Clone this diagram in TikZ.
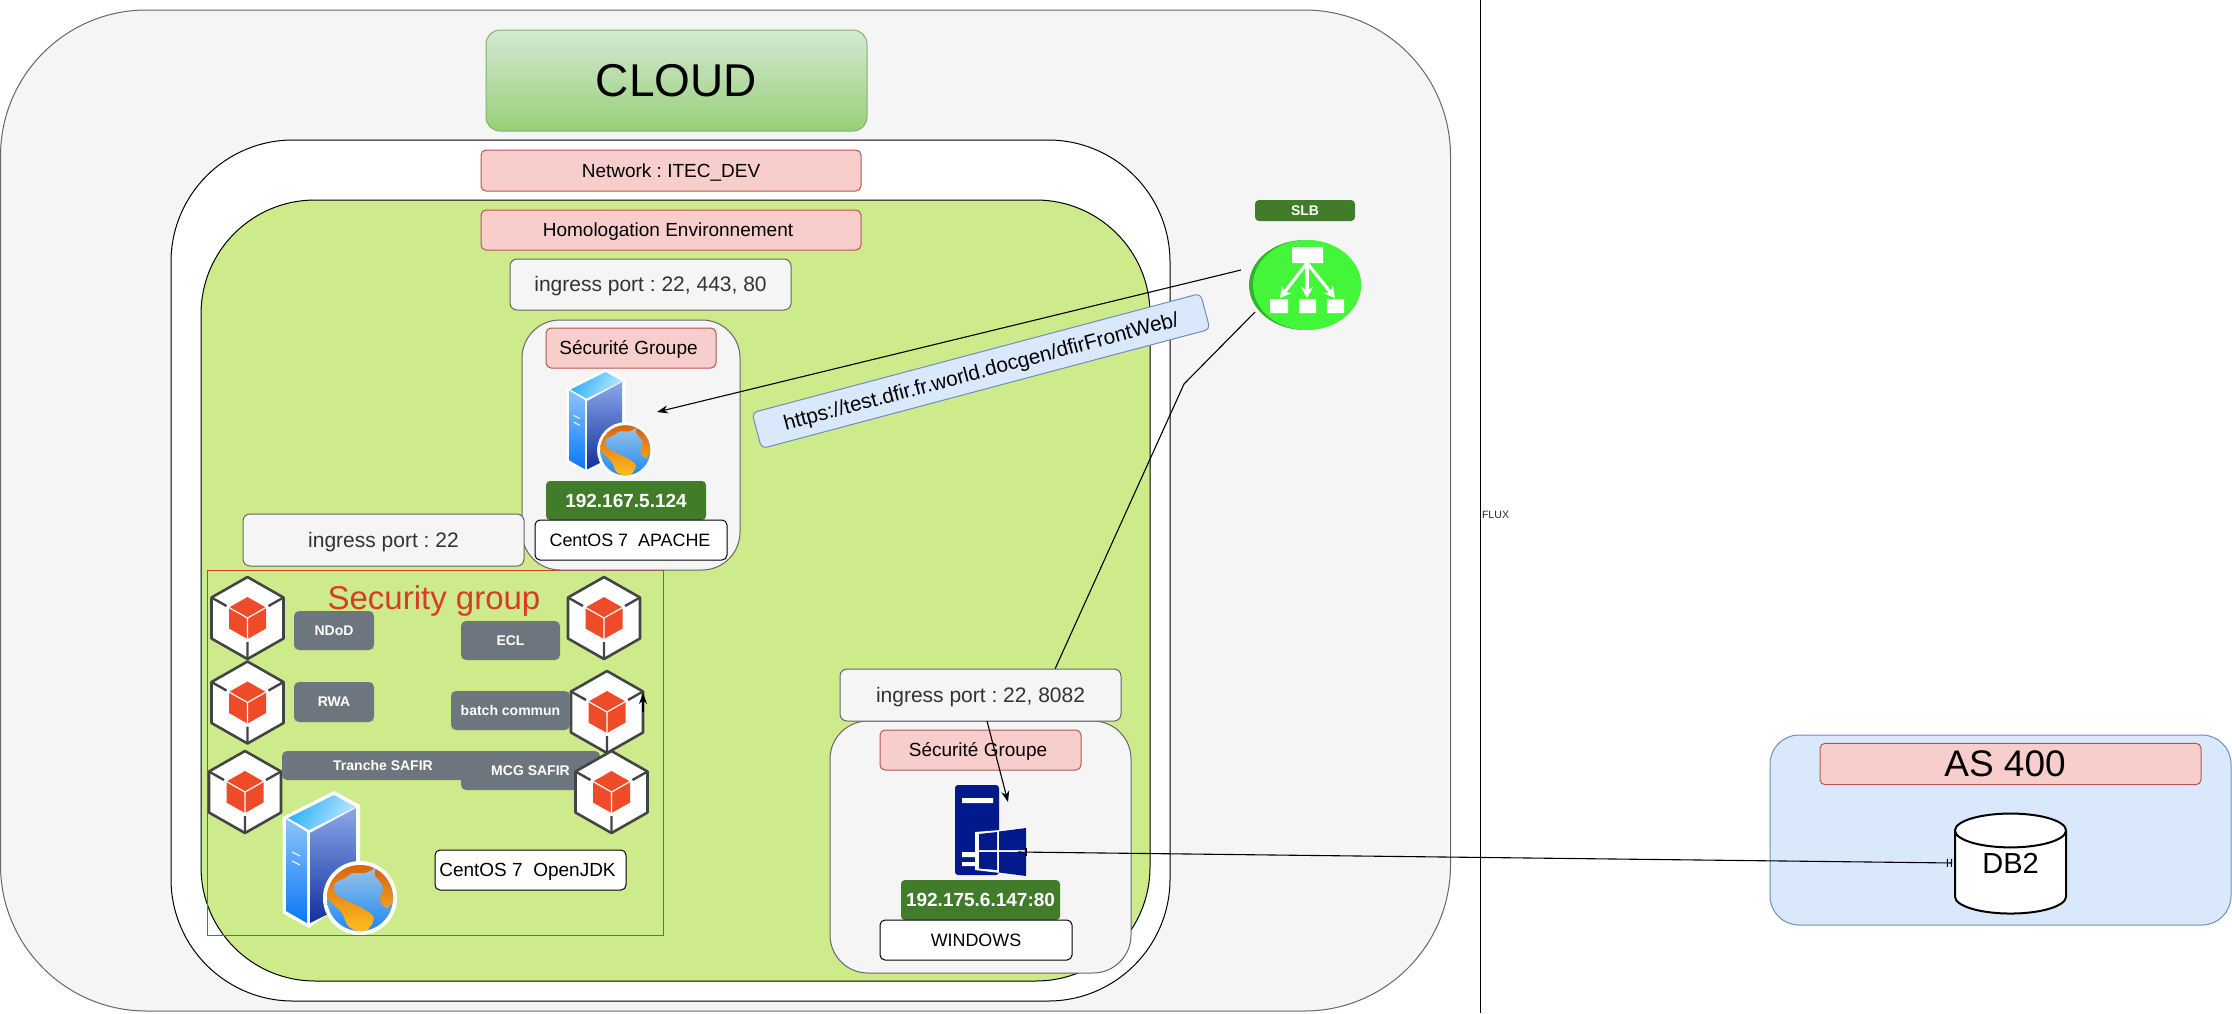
\documentclass[tikz,border=0pt]{standalone}
\usepackage{fontspec}
\setmainfont{Liberation Sans}
\usetikzlibrary{positioning,shapes.geometric,arrows.meta,calc}

\definecolor{cloudgrey}{HTML}{F5F5F5}
\definecolor{edgegrey}{HTML}{666666}
\definecolor{envgreen}{HTML}{CDEB8B}
\definecolor{pinkfill}{HTML}{F8CECC}
\definecolor{pinkedge}{HTML}{B85450}
\definecolor{ipgreen}{HTML}{417C2A}
\definecolor{tagslate}{HTML}{6D767E}
\definecolor{bluefill}{HTML}{DAE8FC}
\definecolor{blueedge}{HTML}{6C8EBF}
\definecolor{sgred}{HTML}{DA3A28}
\definecolor{cubered}{HTML}{F04B29}
\definecolor{cubeedge}{HTML}{444444}
\definecolor{winblue}{HTML}{001A8C}
\definecolor{slblight}{HTML}{44F63A}
\definecolor{slbdark}{HTML}{2FB32A}
\definecolor{cloudtop}{HTML}{D5E8D4}
\definecolor{cloudbot}{HTML}{97D077}
\definecolor{cloudedge}{HTML}{82B366}
\definecolor{srvtopa}{HTML}{2BB0FA}
\definecolor{srvtopb}{HTML}{BFE8FF}
\definecolor{srvlefta}{HTML}{8CC4FB}
\definecolor{srvleftb}{HTML}{0A78F5}
\definecolor{srvrighta}{HTML}{8AA8E8}
\definecolor{srvrightb}{HTML}{122FA0}
\definecolor{globea}{HTML}{9CC4E4}
\definecolor{globeb}{HTML}{1E88F5}
\definecolor{landa}{HTML}{D8620F}
\definecolor{landb}{HTML}{FFC020}
\definecolor{landc}{HTML}{F0A020}

\newcommand{\px}[1]{\fontsize{#1}{#1}\selectfont\frenchspacing\vrule width 0pt height .905em depth .212em\relax}

\tikzset{
base/.style = {shape = rectangle, inner sep = 0pt, outer sep = 0pt},
zone/.style = {base, line width = 1pt, draw = black},
pinklabel/.style = {base, fill = pinkfill, draw = pinkedge, line width = 1pt, rounded corners = 5pt, font = \px{19}},
ingress/.style = {base, fill = cloudgrey, draw = edgegrey, line width = 1pt, rounded corners = 7pt, text = black!80, font = \px{21}},
sgzone/.style = {base, fill = cloudgrey, draw = edgegrey, line width = 1pt, rounded corners = 38pt},
ipbox/.style = {base, fill = ipgreen, rounded corners = 4pt, text = white, font = \bfseries\px{19}},
osbox/.style = {base, fill = white, draw = black, line width = 1pt, rounded corners = 5pt},
tag/.style = {base, fill = tagslate, rounded corners = 5pt, text = white, font = \bfseries\px{14}},
edge/.style = {draw = black, line width = 1.1pt},
flow/.style = {edge, -{Stealth[length = 11pt, width = 8pt]}},
slbarrow/.style = {white, line width = 3.2pt, -{Stealth[length = 11pt, width = 12pt]}},
cubeicon/.pic = {
  \draw[fill = white, draw = cubeedge, line width = 2.6pt, line join = round]
    (0,-41) -- (36,-20.5) -- (36,20.5) -- (0,41) -- (-36,20.5) -- (-36,-20.5) -- cycle;
  \draw[draw = cubeedge, line width = 2.4pt]
    (36,-20.5) -- (21,-12) (-36,-20.5) -- (-21,-12) (0,41) -- (0,24);
  \fill[cubered] (0,-21) -- (18.5,-10.5) -- (18.5,10.5) -- (0,21) -- (-18.5,10.5) -- (-18.5,-10.5) -- cycle;
  \draw[white, line width = 1.2pt] (-18.5,-10.5) -- (0,0) -- (18.5,-10.5) (0,0) -- (0,21);
},
srvglobe/.pic = {
  \fill[white] (52,0) -- (78,14) -- (78,100) -- (27,137) -- (0.7,122) -- (0.7,26) -- cycle;
  \path[left color = srvtopa, right color = srvtopb, shading angle = 60] (52,4) -- (74,16) -- (27,39) -- (6,27) -- cycle;
  \path[top color = srvlefta, bottom color = srvleftb] (4,28) -- (25,41) -- (25,132) -- (4,120) -- cycle;
  \path[top color = srvrighta, bottom color = srvrightb] (28,42) -- (74,17) -- (74,109) -- (28,132) -- cycle;
  \draw[white, line width = 1pt] (10,61) -- (18,65) (10,70) -- (18,74);
  \fill[white] (78,107) circle (37);
  \begin{scope}
  \clip (78,107) circle (33);
  \path[top color = globea, bottom color = globeb] (45,74) rectangle (111,140);
  \path[top color = landa, bottom color = landb] plot[smooth cycle] coordinates {
    (46,107) (45.7,92) (57,76) (77,72) (93,76) (83,82) (70,82) (63,87) (53,92) (53,102)
    (63,109) (80,117) (92,127) (83,141) (67,136) (60,122) (50,112)};
  \path[top color = landa, bottom color = landc] plot[smooth cycle] coordinates {
    (95,77) (107,86) (112,106) (105,117) (98,109) (101,96) (93,84)};
  \end{scope}
}
}

\begin{document}
\begin{tikzpicture}[x = 1pt, y = -1pt]
\useasboundingbox (0,0) rectangle (2232,1013);

% zones
\node[zone, draw = edgegrey, fill = cloudgrey, rounded corners = 146pt, minimum width = 1450pt, minimum height = 1001pt] (cloudzone) at (725.5,510.5) {};
\node[base, top color = cloudtop, bottom color = cloudbot, draw = cloudedge, line width = 1pt, rounded corners = 14pt, minimum width = 381pt, minimum height = 101pt, font = \px{46}] (cloud) at (676.5,80.5) {CLOUD};
\node[zone, fill = white, rounded corners = 122pt, minimum width = 999pt, minimum height = 861pt] (network) at (670.5,570.5) {};
\node[pinklabel, minimum width = 380pt, minimum height = 41pt] (networklabel) at (671,170.5) {Network : ITEC\_DEV};
\node[zone, fill = envgreen, rounded corners = 114pt, minimum width = 949pt, minimum height = 781pt] (homolog) at (675.5,590.5) {};
\node[pinklabel, minimum width = 380pt, minimum height = 40pt] (homologlabel) at (671,230) {Homologation Environnement\kern 6pt};

% security group of the java hosts
\node[base, draw = sgred, line width = 1pt, minimum width = 456pt, minimum height = 365pt] (sgjava) at (435,752.5) {};
\node[base, text = sgred, font = \px{33}] (sgjavalabel) at (434,598) {Security group};

% web host
\node[ingress, minimum width = 281pt, minimum height = 51pt] (ingressweb) at (650.5,284.5) {ingress port : 22, 443, 80};
\node[sgzone, minimum width = 218pt, minimum height = 250pt] (sgweb) at (631,445) {};
\node[pinklabel, minimum width = 170pt, minimum height = 40pt] (sgweblabel) at (631,348) {Sécurité Groupe\kern 5pt};
\pic[scale = 0.76] at (566,369) {srvglobe};
\node[ipbox, minimum width = 160pt, minimum height = 39pt] (ipweb) at (626,500.5) {192.167.5.124};
\node[osbox, below = 0pt of ipweb, xshift = 5pt, minimum width = 192pt, minimum height = 40pt, font = \px{17.9}] (osweb) {CentOS 7\ \ APACHE\kern 2pt};
\node[ingress, minimum width = 281pt, minimum height = 52pt] (ingressjava) at (383.5,540) {ingress port : 22};

% java hosts
\foreach \cx/\cy in {247.5/618, 247.5/702.5, 245/792, 604/618, 607/712}
  \pic at (\cx,\cy) {cubeicon};
\node[tag, minimum width = 80pt, minimum height = 39pt] (ndod) at (334,630.5) {NDoD};
\node[tag, minimum width = 80pt, minimum height = 40pt] (rwa) at (334,702) {RWA};
\node[tag, minimum width = 99pt, minimum height = 39pt] (ecl) at (510.5,640.5) {ECL};
\node[tag, minimum width = 119pt, minimum height = 39pt] (batch) at (510.5,710.5) {batch commun};
\node[tag, minimum width = 202pt, minimum height = 29pt] (tranche) at (383,765.5) {Tranche SAFIR};
\node[tag, minimum width = 139pt, minimum height = 39pt] (mcg) at (530.5,770.5) {MCG SAFIR};
\pic at (611.5,792) {cubeicon};
\pic at (282,791) {srvglobe};
\node[osbox, minimum width = 191pt, minimum height = 40pt, font = \px{19}] (osjava) at (530.5,870) {CentOS 7\ \ OpenJDK\kern 6pt};
\coordinate (batchfrom) at (643,712);
\coordinate (batchto) at (643,693);
\draw[flow] (batchfrom) -- (batchto);

% windows host
\node[sgzone, minimum width = 301pt, minimum height = 252pt] (sgwin) at (980.5,847) {};
\node[pinklabel, minimum width = 201pt, minimum height = 40pt] (sgwinlabel) at (980.5,750) {Sécurité Groupe\kern 5pt};
\node[base, minimum width = 71pt, minimum height = 90pt] (winsrv) at (990.5,830) {};
\fill[winblue, rounded corners = 3pt] (955,875) -- (955,785) -- (999,785) -- (999,875) -- cycle;
\fill[white] (962,798) rectangle (993,803) (962,852) rectangle (976,857) (962,862) rectangle (976,866);
\fill[white] (975,832) -- (1026,828) -- (1026,876) -- (975,870) -- cycle;
\fill[winblue] (979,834) -- (997,832) -- (997,850) -- (979,850) -- cycle
  (999,831.5) -- (1026,828) -- (1026,850) -- (999,850) -- cycle
  (979,852) -- (997,852) -- (997,870) -- (979,868.5) -- cycle
  (999,852) -- (1026,852) -- (1026,876) -- (999,872.5) -- cycle;
\node[ipbox, minimum width = 159pt, minimum height = 40pt] (ipwin) at (980.5,900) {192.175.6.147:80};
\node[osbox, below = 0pt of ipwin, xshift = -4.5pt, minimum width = 192pt, minimum height = 40pt, font = \px{17.9}] (oswin) {WINDOWS};

% load balancer
\node[base, fill = ipgreen, rounded corners = 4pt, minimum width = 100pt, minimum height = 21pt, text = white, font = \bfseries\px{14}] (slblabel) at (1305,210.5) {SLB};
\node[shape = ellipse, inner sep = 0pt, outer sep = 0pt, fill = slbdark, minimum width = 112pt, minimum height = 90pt] (slb) at (1305,285) {};
\fill[slblight] (1307,285) ellipse (54 and 45);
\fill[white] (1292,247) rectangle (1323,263) (1270,299) rectangle (1288,313) (1299,299) rectangle (1316,313) (1327,299) rectangle (1344,313);
\draw[slbarrow] (1307,263) -- (1280,298);
\draw[slbarrow] (1307,263) -- (1307,298);
\draw[slbarrow] (1307,263) -- (1335,298);

% connectors
\coordinate (slbweb) at (1241,270);
\coordinate (webin) at (657,412);
\coordinate (slbwin) at (1255,312);
\coordinate (slbbend) at (1184,384);
\coordinate (ingresstop) at (1055,669);
\coordinate (ingressbot) at (987,721);
\coordinate (winin) at (1008,802);
\coordinate (winout) at (1018,852);
\draw[flow] (slbweb) -- (webin);
\draw[edge] (slbwin) -- (slbbend) -- (ingresstop);
\node[base, rotate = 14.9, fill = bluefill, draw = blueedge, line width = 1pt, rounded corners = 5pt, minimum width = 464pt, minimum height = 37pt, font = \px{20.8}] (urllabel) at (981,371) {https://test.dfir.fr.world.docgen/dfirFrontWeb/};
\node[ingress, minimum width = 281pt, minimum height = 52pt] (ingresswin) at (980.5,695) {ingress port : 22, 8082};
\draw[flow] (ingressbot) -- (winin);

% as 400
\node[base, draw = blueedge, fill = bluefill, line width = 1pt, rounded corners = 29pt, minimum width = 461pt, minimum height = 190pt] (as400) at (2000.5,830) {};
\node[pinklabel, minimum width = 381pt, minimum height = 40pt, font = \px{37}] (as400label) at (2010.5,764) {AS 400\kern 11pt};
\node[shape = cylinder, shape border rotate = 90, aspect = 0.6, draw = black, fill = white, line width = 2pt, inner sep = 0pt, minimum width = 111pt, minimum height = 100pt, font = \fontsize{29}{29}\selectfont] (db2) at (2010.5,872.5) {\raisebox{19pt}{DB2}};
\coordinate (dbin) at ([yshift = 9.5pt]db2.west);
\draw[edge, -{Bar[width = 8pt, sep = 3pt]Bar[width = 8pt, sep = 2pt]}] (winout) -- (dbin);
\draw[edge] ($(winout)!8pt!(dbin)$) ++(0,-4) -- ++(0,8);

% flux separator
\node[base, font = \px{10.6}, text = black!85, anchor = west] (flux) at (1482,515) {FLUX};
\coordinate (splittop) at (1480.5,0);
\coordinate (splitbot) at (1480.5,1013);
\draw[draw = black, line width = 1pt] (splittop) -- (splitbot);
\end{tikzpicture}
\end{document}
